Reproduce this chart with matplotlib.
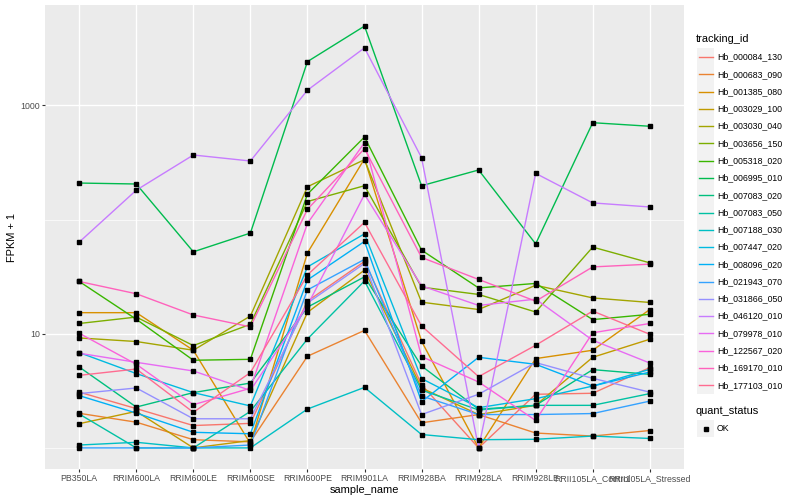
import numpy as np
import matplotlib.pyplot as plt
from matplotlib.ticker import NullLocator

plt.rcParams['font.family'] = ['Liberation Sans', 'DejaVu Sans']

# x categories
samples = ['PB350LA', 'RRIM600LA', 'RRIM600LE', 'RRIM600SE', 'RRIM600PE', 'RRIM901LA',
           'RRIM928BA', 'RRIM928LA', 'RRIM928LE', 'RRII105LA_Control', 'RRII105LA_Stressed']

# FPKM + 1 per gene, one value per sample
hb_000084_130 = [3.08, 2.21, 1.57, 1.64, 19.3, 43.0, 3.58, 1.0, 2.95, 3.01, 5.05]
hb_000683_090 = [2.01, 1.68, 1.18, 1.13, 6.35, 10.7, 1.66, 1.96, 1.35, 1.27, 1.42]
hb_001385_080 = [15.3, 15.3, 7.17, 1.09, 51.1, 341, 8.59, 1.0, 6.06, 7.17, 16.3]
hb_003029_100 = [1.63, 2.09, 1.0, 1.16, 15.4, 36.1, 3.35, 1.96, 2.36, 6.22, 8.95]
hb_003030_040 = [9.19, 8.55, 7.17, 14.3, 194, 335, 18.9, 16.3, 26.6, 20.6, 18.8]
hb_003656_150 = [12.3, 14.0, 7.88, 12.1, 144, 198, 25.6, 22.1, 15.5, 57.4, 41.8]
hb_005318_020 = [28.7, 13.4, 5.86, 5.97, 167, 529, 54.0, 25.2, 27.6, 13.3, 14.8]
hb_006995_010 = [209, 205, 52.2, 76.2, 2421, 4955, 198, 272, 61.3, 706, 657]
hb_007083_020 = [5.11, 2.28, 3.05, 3.70, 17.1, 31.5, 5.22, 2.18, 2.36, 4.85, 4.41]
hb_007083_050 = [1.98, 1.0, 1.0, 2.09, 9.0, 29.0, 3.21, 2.15, 2.36, 2.36, 2.99]
hb_007188_030 = [1.06, 1.12, 1.0, 1.0, 2.19, 3.39, 1.31, 1.18, 1.19, 1.27, 1.21]
hb_007447_020 = [6.84, 4.48, 3.05, 2.33, 38.5, 75.0, 4.05, 2.25, 2.70, 3.48, 4.88]
hb_008096_020 = [2.87, 2.02, 1.37, 1.33, 29.6, 64.4, 2.54, 6.22, 5.40, 3.48, 4.62]
hb_021943_070 = [1.0, 1.0, 1.0, 1.06, 24.2, 44.8, 2.85, 1.96, 1.96, 2.0, 2.57]
hb_031866_050 = [2.99, 3.35, 1.80, 1.80, 18.6, 41.3, 1.96, 2.95, 5.59, 4.07, 3.08]
hb_046120_010 = [63.5, 181, 368, 326, 1360, 3193, 348, 1.0, 254, 140, 129]
hb_079978_010 = [6.75, 5.62, 4.72, 3.19, 17.7, 166, 26.3, 17.7, 20.1, 8.77, 5.54]
hb_122567_020 = [10.1, 5.40, 2.39, 3.33, 92.6, 472, 6.31, 3.78, 1.74, 10.2, 12.3]
hb_169170_010 = [28.7, 22.4, 14.6, 11.5, 123, 418, 46.6, 29.9, 19.3, 38.5, 40.7]
hb_177103_010 = [4.32, 4.91, 2.05, 4.57, 32.8, 94.5, 11.7, 4.21, 7.93, 15.8, 9.90]

tracking_ids = ['Hb_000084_130', 'Hb_000683_090', 'Hb_001385_080', 'Hb_003029_100',
                'Hb_003030_040', 'Hb_003656_150', 'Hb_005318_020', 'Hb_006995_010',
                'Hb_007083_020', 'Hb_007083_050', 'Hb_007188_030', 'Hb_007447_020',
                'Hb_008096_020', 'Hb_021943_070', 'Hb_031866_050', 'Hb_046120_010',
                'Hb_079978_010', 'Hb_122567_020', 'Hb_169170_010', 'Hb_177103_010']
series = [hb_000084_130, hb_000683_090, hb_001385_080, hb_003029_100, hb_003030_040,
          hb_003656_150, hb_005318_020, hb_006995_010, hb_007083_020, hb_007083_050,
          hb_007188_030, hb_007447_020, hb_008096_020, hb_021943_070, hb_031866_050,
          hb_046120_010, hb_079978_010, hb_122567_020, hb_169170_010, hb_177103_010]

# ggplot default hue palette, 20 levels
colors = ['#F8766D', '#EA8331', '#D89000', '#C09B00', '#A3A500', '#7CAE00', '#39B600',
          '#00BB4E', '#00BF7D', '#00C1A3', '#00BFC4', '#00BAE0', '#00B0F6', '#35A2FF',
          '#9590FF', '#C77CFF', '#E76BF3', '#FA62DB', '#FF62BC', '#FF6C91']

W, H = 800, 500
fig = plt.figure(figsize=(8, 5), dpi=100)
ax = fig.add_axes([45 / W, 1 - 469 / H, 639 / W, 464 / H])
ax.set_facecolor('#EBEBEB')

x = np.arange(len(samples))
for xi in x:
    ax.axvline(xi, color='white', lw=1.0, zorder=1)
for v in [1, 100]:
    ax.axhline(v, color='white', lw=0.5, zorder=1)
for v in [10, 1000]:
    ax.axhline(v, color='white', lw=1.0, zorder=1)

for vals, col in zip(series, colors):
    ax.plot(x, vals, color=col, lw=1.0, zorder=2)
for vals in series:
    ax.plot(x, vals, 's', color='black', ms=2.8, lw=0, zorder=3)

ax.set_yscale('log')
allv = np.log10(np.concatenate([np.array(s, float) for s in series]))
lo, hi = allv.min(), allv.max()
pad = 0.05 * (hi - lo)
ax.set_ylim(10 ** (lo - pad), 10 ** (hi + pad))
ax.set_xlim(-0.6, len(samples) - 0.4)

ax.set_yticks([10, 1000])
ax.set_yticklabels(['10', '1000'])
ax.yaxis.set_minor_locator(NullLocator())
ax.set_xticks(x)
ax.set_xticklabels(samples)
ax.tick_params(length=2.0, width=0.8, color='#333333', labelsize=6.3,
               labelcolor='#4D4D4D', pad=1.6)
for sp in ax.spines.values():
    sp.set_visible(False)

fig.text(364.5 / W, 1 - 490 / H, 'sample_name', ha='center', va='center', fontsize=7.9)
fig.text(12 / W, 1 - 237 / H, 'FPKM + 1', ha='center', va='center', rotation=90,
         fontsize=7.9)


# legend drawn in pixel coordinates
def fx(px):
    return px / W


def fy(py):
    return 1 - py / H


key = 17.28
fig.text(fx(696), fy(39), 'tracking_id', ha='left', va='center', fontsize=7.9)
for i, (tid, col) in enumerate(zip(tracking_ids, colors)):
    cy = 57 + i * key
    fig.patches.append(plt.Rectangle((fx(697), fy(cy + key / 2)), key / W, key / H,
                                     transform=fig.transFigure, color='#F2F2F2', lw=0))
    fig.lines.append(plt.Line2D([fx(698.7), fx(712.6)], [fy(cy), fy(cy)],
                                transform=fig.transFigure, color=col, lw=1.0))
    fig.text(fx(717), fy(cy), tid, ha='left', va='center', fontsize=6.3)

fig.text(fx(696), fy(411), 'quant_status', ha='left', va='center', fontsize=7.9)
cy = 428.5
fig.patches.append(plt.Rectangle((fx(697), fy(cy + key / 2)), key / W, key / H,
                                 transform=fig.transFigure, color='#F2F2F2', lw=0))
fig.lines.append(plt.Line2D([fx(705.6)], [fy(cy)], transform=fig.transFigure,
                            marker='s', color='black', ms=2.8, lw=0))
fig.text(fx(717), fy(cy), 'OK', ha='left', va='center', fontsize=6.3)

fig.savefig('out.png', dpi=100)
